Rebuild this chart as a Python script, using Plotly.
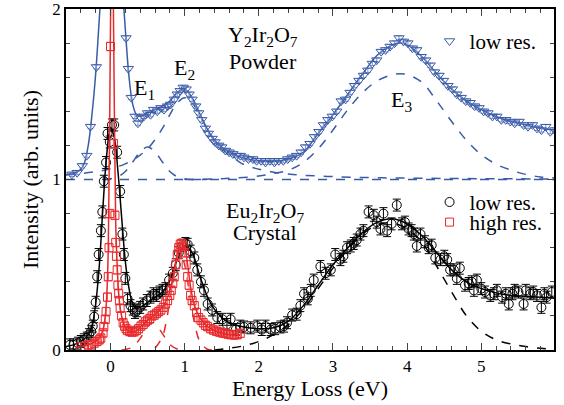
import plotly.graph_objects as go

BLUE = "#3a5ba8"
RED = "#e8282b"
BLACK = "#000000"
FONT = "Liberation Serif"

# ---------------- Y2Ir2O7 powder (offset by 1) ----------------
tri_x = [-0.52, -0.45, -0.38, -0.32, -0.27, -0.19,
         0.21, 0.24, 0.28, 0.33, 0.37, 0.41, 0.45, 0.50, 0.54, 0.58, 0.63, 0.68, 0.72, 0.77,
         0.81, 0.86, 0.90, 0.94, 0.98, 1.02, 1.06, 1.10, 1.15, 1.19, 1.23, 1.28, 1.32, 1.37,
         1.41, 1.46, 1.50, 1.55, 1.60, 1.65, 1.70, 1.75, 1.80, 1.86, 1.92, 1.97, 2.03, 2.09,
         2.15, 2.21, 2.27, 2.33, 2.39, 2.45, 2.51, 2.57, 2.63, 2.69, 2.75, 2.81, 2.87, 2.93,
         2.99, 3.05, 3.11, 3.17, 3.23, 3.29, 3.35, 3.41, 3.47, 3.53, 3.59, 3.65, 3.71, 3.77,
         3.83, 3.89, 3.95, 4.01, 4.07, 4.13, 4.19, 4.25, 4.31, 4.37, 4.43, 4.49, 4.55, 4.61,
         4.67, 4.73, 4.79, 4.85, 4.91, 4.97, 5.03, 5.09, 5.15, 5.21, 5.27, 5.33, 5.39, 5.45,
         5.51, 5.57, 5.63, 5.69, 5.75, 5.81, 5.87, 5.93, 5.99]
tri_y = [1.03, 1.04, 1.08, 1.14, 1.31, 1.66,
         1.83, 1.65, 1.48, 1.37, 1.33, 1.36, 1.37, 1.39, 1.38, 1.41, 1.40, 1.42, 1.41, 1.43,
         1.44, 1.47, 1.50, 1.52, 1.54, 1.53, 1.50, 1.47, 1.43, 1.39, 1.35, 1.30, 1.27, 1.24,
         1.22, 1.20, 1.19, 1.17, 1.16, 1.15, 1.14, 1.14, 1.13, 1.12, 1.12, 1.11, 1.11, 1.10,
         1.11, 1.10, 1.11, 1.11, 1.12, 1.13, 1.14, 1.16, 1.19, 1.21, 1.25, 1.28, 1.32, 1.35,
         1.37, 1.40, 1.46, 1.47, 1.51, 1.55, 1.58, 1.61, 1.64, 1.68, 1.70, 1.75, 1.76, 1.78,
         1.80, 1.83, 1.81, 1.80, 1.77, 1.76, 1.72, 1.70, 1.67, 1.63, 1.61, 1.58, 1.55, 1.53,
         1.50, 1.48, 1.46, 1.45, 1.43, 1.42, 1.40, 1.39, 1.37, 1.37, 1.35, 1.35, 1.34, 1.33,
         1.34, 1.32, 1.31, 1.32, 1.30, 1.29, 1.31, 1.28, 1.29]

blue_fit_x = [-0.6, -0.5, -0.45, -0.4, -0.35, -0.3, -0.25, -0.2, -0.15, -0.1, 0.0, 0.1, 0.15,
              0.2, 0.25, 0.3, 0.35, 0.4, 0.5, 0.6, 0.7, 0.8, 0.9, 1.0, 1.1, 1.2, 1.3, 1.4, 1.5,
              1.6, 1.8, 2.0, 2.2, 2.4, 2.6, 2.8, 3.0, 3.2, 3.4, 3.6, 3.8, 3.9, 4.0, 4.2, 4.4,
              4.6, 4.8, 5.0, 5.2, 5.4, 5.6, 5.8, 6.0]
blue_fit_y = [1.03, 1.035, 1.045, 1.06, 1.10, 1.20, 1.38, 1.62, 1.95, 2.3, 2.8, 2.5, 2.2,
              1.88, 1.60, 1.44, 1.38, 1.37, 1.39, 1.41, 1.43, 1.46, 1.51, 1.53, 1.48, 1.39, 1.30,
              1.23, 1.19, 1.16, 1.125, 1.11, 1.105, 1.12, 1.16, 1.27, 1.38, 1.50, 1.62, 1.73,
              1.79, 1.80, 1.79, 1.72, 1.62, 1.53, 1.46, 1.41, 1.37, 1.34, 1.32, 1.30, 1.29]

e1_top_x = [-0.1, 0.0, 0.1, 0.2, 0.3, 0.4, 0.5, 0.6, 0.7, 0.8, 0.9, 1.0, 1.1, 1.3]
e1_top_y = [1.0, 1.004, 1.016, 1.047, 1.103, 1.163, 1.19, 1.163, 1.103, 1.047, 1.016, 1.004, 1.0, 1.0]

e2_top_x = [-0.6, -0.4, -0.2, 0.0, 0.2, 0.3, 0.4, 0.5, 0.6, 0.7, 0.8, 0.9, 1.0, 1.1, 1.2, 1.3,
            1.4, 1.5, 1.6, 1.7, 1.8, 2.0, 2.2, 2.4, 2.6, 3.0, 3.5, 4.0, 5.0, 6.0]
e2_top_y = [1.027, 1.035, 1.046, 1.063, 1.092, 1.114, 1.143, 1.18, 1.234, 1.30, 1.38, 1.45,
            1.48, 1.45, 1.38, 1.30, 1.234, 1.18, 1.143, 1.114, 1.088, 1.06, 1.043, 1.032,
            1.025, 1.017, 1.011, 1.008, 1.005, 1.003]

e3_top_x = [1.0, 1.5, 2.0, 2.2, 2.4, 2.6, 2.8, 3.0, 3.2, 3.4, 3.6, 3.8, 3.9, 4.0, 4.2, 4.4,
            4.6, 4.8, 5.0, 5.2, 5.4, 5.6, 5.8, 6.0]
e3_top_y = [1.0, 1.005, 1.02, 1.035, 1.055, 1.10, 1.18, 1.29, 1.41, 1.51, 1.58, 1.615, 1.62,
            1.615, 1.57, 1.46, 1.34, 1.23, 1.145, 1.09, 1.055, 1.03, 1.015, 1.01]

base_x = [-0.6, 6.0]
base_y = [1.0, 1.0]

# ---------------- Eu2Ir2O7 crystal ----------------
circ_x = [-0.55, -0.50, -0.44, -0.40, -0.36, -0.32, -0.29, -0.26, -0.24, -0.22, -0.20, -0.18,
          -0.16, -0.13, -0.11, -0.09, -0.06, -0.04, -0.01, 0.02, 0.05, 0.09, 0.13, 0.16, 0.18,
          0.20, 0.23, 0.27, 0.30, 0.33, 0.36, 0.40, 0.44, 0.49, 0.54, 0.58, 0.62, 0.66, 0.70,
          0.74, 0.79, 0.84, 0.88, 0.92, 0.97, 1.01, 1.04, 1.08, 1.13, 1.17, 1.22, 1.26, 1.31,
          1.37, 1.44, 1.51, 1.57, 1.62, 1.69, 1.75, 1.80, 1.89, 1.98, 2.04, 2.09, 2.16, 2.22,
          2.29, 2.34, 2.38, 2.45, 2.51, 2.56, 2.61, 2.66, 2.70, 2.74, 2.83, 2.90, 2.97, 3.03,
          3.10, 3.14, 3.19, 3.24, 3.28, 3.32, 3.37, 3.41, 3.48, 3.55, 3.59, 3.64, 3.68, 3.73,
          3.79, 3.86, 3.93, 3.97, 4.02, 4.06, 4.09, 4.13, 4.18, 4.24, 4.29, 4.33, 4.38, 4.45,
          4.50, 4.54, 4.58, 4.63, 4.67, 4.71, 4.78, 4.83, 4.87, 4.90, 4.94, 5.00, 5.05, 5.12,
          5.17, 5.21, 5.28, 5.33, 5.37, 5.42, 5.45, 5.50, 5.57, 5.60, 5.66, 5.70, 5.75, 5.81,
          5.85, 5.88, 5.95]
circ_y = [0.03, 0.03, 0.04, 0.05, 0.06, 0.07, 0.09, 0.11, 0.14, 0.195, 0.28, 0.43,
          0.56, 0.70, 0.81, 0.99, 1.10, 1.27, 1.22, 1.32, 1.32, 1.16, 0.93, 0.68, 0.56,
          0.42, 0.30, 0.26, 0.24, 0.22, 0.23, 0.25, 0.27, 0.29, 0.31, 0.33, 0.32, 0.34, 0.35,
          0.36, 0.41, 0.45, 0.50, 0.57, 0.615, 0.625, 0.62, 0.58, 0.54, 0.47, 0.40, 0.35, 0.27,
          0.235, 0.19, 0.18, 0.15, 0.18, 0.12, 0.14, 0.135, 0.13, 0.14, 0.12, 0.14, 0.12, 0.125,
          0.135, 0.14, 0.16, 0.205, 0.21, 0.26, 0.33, 0.30, 0.35, 0.41, 0.49, 0.45, 0.47, 0.56,
          0.53, 0.55, 0.60, 0.61, 0.625, 0.645, 0.68, 0.70, 0.81, 0.79, 0.75, 0.71, 0.80, 0.70,
          0.74, 0.85, 0.74, 0.75, 0.71, 0.70, 0.68, 0.61, 0.68, 0.635, 0.60, 0.615, 0.54, 0.53,
          0.55, 0.53, 0.47, 0.47, 0.42, 0.48, 0.38, 0.39, 0.40, 0.35, 0.41, 0.36, 0.34, 0.32,
          0.33, 0.35, 0.31, 0.33, 0.27, 0.33, 0.35, 0.34, 0.27, 0.35, 0.33, 0.34, 0.32, 0.25,
          0.33, 0.31, 0.34]

black_fit_x = [-0.6, -0.5, -0.4, -0.3, -0.25, -0.2, -0.15, -0.1, -0.05, 0.0, 0.05, 0.1, 0.15,
               0.2, 0.25, 0.3, 0.35, 0.4, 0.5, 0.6, 0.7, 0.8, 0.9, 1.0, 1.1, 1.2, 1.3, 1.4, 1.5,
               1.6, 1.8, 2.0, 2.2, 2.4, 2.6, 2.8, 3.0, 3.2, 3.4, 3.6, 3.8, 4.0, 4.2, 4.4, 4.6,
               4.8, 5.0, 5.2, 5.4, 5.6, 5.8, 6.0]
black_fit_y = [0.02, 0.03, 0.05, 0.09, 0.14, 0.27, 0.50, 0.85, 1.15, 1.30, 1.25, 1.05, 0.78,
               0.52, 0.36, 0.27, 0.245, 0.25, 0.28, 0.31, 0.34, 0.41, 0.53, 0.61, 0.57, 0.44,
               0.32, 0.24, 0.19, 0.16, 0.135, 0.125, 0.13, 0.17, 0.26, 0.38, 0.50, 0.60, 0.69,
               0.75, 0.77, 0.74, 0.67, 0.57, 0.47, 0.40, 0.36, 0.335, 0.32, 0.315, 0.31, 0.305]

e3_bot_x = [1.4, 1.6, 1.8, 2.0, 2.2, 2.4, 2.6, 2.8, 3.0, 3.2, 3.4, 3.6, 3.8, 4.0, 4.2, 4.4,
            4.6, 4.8, 5.0, 5.2, 5.4, 5.6, 5.8, 6.0]
e3_bot_y = [0.0, 0.01, 0.025, 0.05, 0.09, 0.15, 0.24, 0.36, 0.48, 0.59, 0.68, 0.735, 0.745,
            0.71, 0.63, 0.49, 0.34, 0.20, 0.11, 0.06, 0.035, 0.02, 0.01, 0.005]

sq_x = [-0.40, -0.35, -0.30, -0.26, -0.22, -0.18, -0.15, -0.13, -0.10, -0.09, -0.07, -0.06,
        -0.04, -0.03, -0.02, -0.01, 0.00, 0.04, 0.06, 0.07, 0.08, 0.09, 0.10, 0.11, 0.12, 0.13,
        0.15, 0.17, 0.19, 0.21, 0.23, 0.26, 0.29, 0.32, 0.35, 0.38, 0.41, 0.44, 0.47, 0.50,
        0.53, 0.56, 0.59, 0.62, 0.65, 0.68, 0.71, 0.74, 0.77, 0.80, 0.82, 0.84, 0.86, 0.88,
        0.90, 0.92, 0.94, 0.96, 0.98, 1.00, 1.02, 1.04, 1.06, 1.08, 1.10, 1.13, 1.16, 1.19,
        1.22, 1.25, 1.28, 1.31, 1.35, 1.39, 1.43, 1.47, 1.51, 1.55, 1.59, 1.63, 1.67, 1.71, 1.75]
sq_y = [0.02, 0.02, 0.03, 0.03, 0.04, 0.05, 0.06, 0.07, 0.10, 0.137, 0.18, 0.225,
        0.31, 0.43, 0.60, 0.80, 1.78, 1.21, 0.79, 0.63, 0.55, 0.47, 0.38, 0.33, 0.29, 0.245,
        0.20, 0.16, 0.14, 0.125, 0.115, 0.108, 0.105, 0.107, 0.115, 0.125, 0.14, 0.15, 0.165,
        0.175, 0.185, 0.20, 0.205, 0.215, 0.225, 0.235, 0.25, 0.27, 0.29, 0.32, 0.35, 0.39,
        0.43, 0.50, 0.56, 0.60, 0.62, 0.625, 0.61, 0.57, 0.50, 0.43, 0.38, 0.32, 0.29, 0.26,
        0.22, 0.19, 0.175, 0.16, 0.145, 0.137, 0.125, 0.117, 0.11, 0.105, 0.10, 0.097, 0.093,
        0.09, 0.088, 0.09, 0.098]

red_fit_x = [-0.45, -0.4, -0.3, -0.2, -0.15, -0.1, -0.07, -0.05, -0.03, -0.01, 0.01, 0.02, 0.03,
             0.05, 0.07, 0.09, 0.11, 0.14, 0.18, 0.23, 0.3, 0.36, 0.43, 0.5, 0.6, 0.7, 0.78,
             0.84, 0.88, 0.92, 0.96, 1.0, 1.04, 1.08, 1.12, 1.17, 1.22, 1.3, 1.4, 1.5, 1.6, 1.75]
red_fit_y = [0.015, 0.02, 0.03, 0.05, 0.07, 0.12, 0.2, 0.32, 0.6, 1.4, 2.4, 2.6, 2.4,
             1.5, 0.75, 0.5, 0.33, 0.22, 0.15, 0.115, 0.105, 0.115, 0.145, 0.175, 0.21, 0.25,
             0.32, 0.42, 0.52, 0.6, 0.625, 0.6, 0.5, 0.37, 0.28, 0.22, 0.18, 0.14, 0.115, 0.1,
             0.09, 0.09]

e1_red_x = [0.15, 0.2, 0.3, 0.4, 0.5, 0.57, 0.6, 0.7, 0.8, 0.9, 1.0]
e1_red_y = [0.0, 0.003, 0.018, 0.068, 0.138, 0.16, 0.156, 0.097, 0.033, 0.006, 0.0]

e2_red_x = [0.6, 0.7, 0.75, 0.8, 0.85, 0.9, 0.94, 1.0, 1.05, 1.1, 1.15, 1.2, 1.3, 1.4]
e2_red_y = [0.01, 0.077, 0.163, 0.29, 0.43, 0.54, 0.57, 0.50, 0.375, 0.234, 0.123, 0.055,
            0.006, 0.0]

fig = go.Figure()

def dashed(x, y, color, width=1.5):
    fig.add_trace(go.Scatter(x=x, y=y, mode="lines", line=dict(color=color, width=width, dash="dash", shape="spline"),
                             showlegend=False, hoverinfo="skip"))

def solid(x, y, color, width=1.5):
    fig.add_trace(go.Scatter(x=x, y=y, mode="lines", line=dict(color=color, width=width, shape="spline"),
                             showlegend=False, hoverinfo="skip"))

# top panel
dashed(base_x, base_y, BLUE)
dashed(e1_top_x, e1_top_y, BLUE)
dashed(e2_top_x, e2_top_y, BLUE)
dashed(e3_top_x, e3_top_y, BLUE)
solid(blue_fit_x, blue_fit_y, BLUE)
fig.add_trace(go.Scatter(x=tri_x, y=tri_y, mode="markers", name="low res.", legend="legend",
                         marker=dict(symbol="triangle-down-open", size=9, color=BLUE, line=dict(width=1, color=BLUE)),
                         error_y=dict(type="constant", value=0.012, color="#8095c8", thickness=1, width=3)))

# bottom panel
dashed(e3_bot_x, e3_bot_y, BLACK)
solid(black_fit_x, black_fit_y, BLACK)
fig.add_trace(go.Scatter(x=circ_x, y=circ_y, mode="markers", name="low res.", legend="legend2",
                         marker=dict(symbol="circle-open", size=9, color=BLACK, line=dict(width=1, color=BLACK)),
                         error_y=dict(type="constant", value=0.035, color=BLACK, thickness=1, width=4)))
dashed(e1_red_x, e1_red_y, RED)
dashed(e2_red_x, e2_red_y, RED)
fig.add_trace(go.Scatter(x=sq_x, y=sq_y, mode="markers", name="high res.", legend="legend3",
                         marker=dict(symbol="square-open", size=8, color=RED, line=dict(width=1, color=RED)),
                         error_y=dict(type="constant", value=0.025, color="#f07070", thickness=1, width=4)))
solid(red_fit_x, red_fit_y, RED)

ann_font = dict(family=FONT, size=22, color="black")
annotations = [
    dict(x=2.05, y=1.84, text="Y<sub>2</sub>Ir<sub>2</sub>O<sub>7</sub>"),
    dict(x=2.05, y=1.69, text="Powder"),
    dict(x=0.46, y=1.53, text="E<sub>1</sub>"),
    dict(x=1.0, y=1.65, text="E<sub>2</sub>"),
    dict(x=3.92, y=1.46, text="E<sub>3</sub>"),
    dict(x=2.08, y=0.81, text="Eu<sub>2</sub>Ir<sub>2</sub>O<sub>7</sub>"),
    dict(x=2.08, y=0.69, text="Crystal"),
]
for a in annotations:
    a.update(xref="x", yref="y", showarrow=False, font=ann_font)

leg_common = dict(font=dict(family=FONT, size=21, color="black"), bgcolor="rgba(0,0,0,0)",
                  xanchor="left", yanchor="middle", borderwidth=0, itemwidth=30)

axis_common = dict(tickmode="linear", tick0=0, dtick=1, ticks="inside", ticklen=7,
                   tickwidth=1, showline=True, linewidth=1.5, linecolor="black", mirror="allticks",
                   showgrid=False, zeroline=False, automargin=False, ticklabeloverflow="allow",
                   tickfont=dict(family=FONT, size=17),
                   minor=dict(dtick=0.2, tick0=0, ticks="inside", ticklen=4, tickwidth=1, showgrid=False))

fig.update_layout(
    width=564, height=405,
    margin=dict(l=66, r=10, t=9, b=55, autoexpand=False),
    paper_bgcolor="white", plot_bgcolor="white",
    font=dict(family=FONT, size=17, color="black"),
    annotations=annotations,
    legend=dict(x=0.745, y=0.905, **leg_common),
    legend2=dict(x=0.745, y=0.433, **leg_common),
    legend3=dict(x=0.745, y=0.374, **leg_common),
    xaxis=dict(range=[-0.6, 5.98],
               title=dict(text="Energy Loss (eV)", font=dict(family=FONT, size=22), standoff=4),
               **axis_common),
    yaxis=dict(range=[0, 2.0001],
               title=dict(text="Intensity (arb. units)", font=dict(family=FONT, size=22), standoff=8),
               **axis_common),
)

fig.write_html("out.html", config={"displayModeBar": False},
               post_script="document.body.style.margin='0';document.body.style.overflow='hidden';")
